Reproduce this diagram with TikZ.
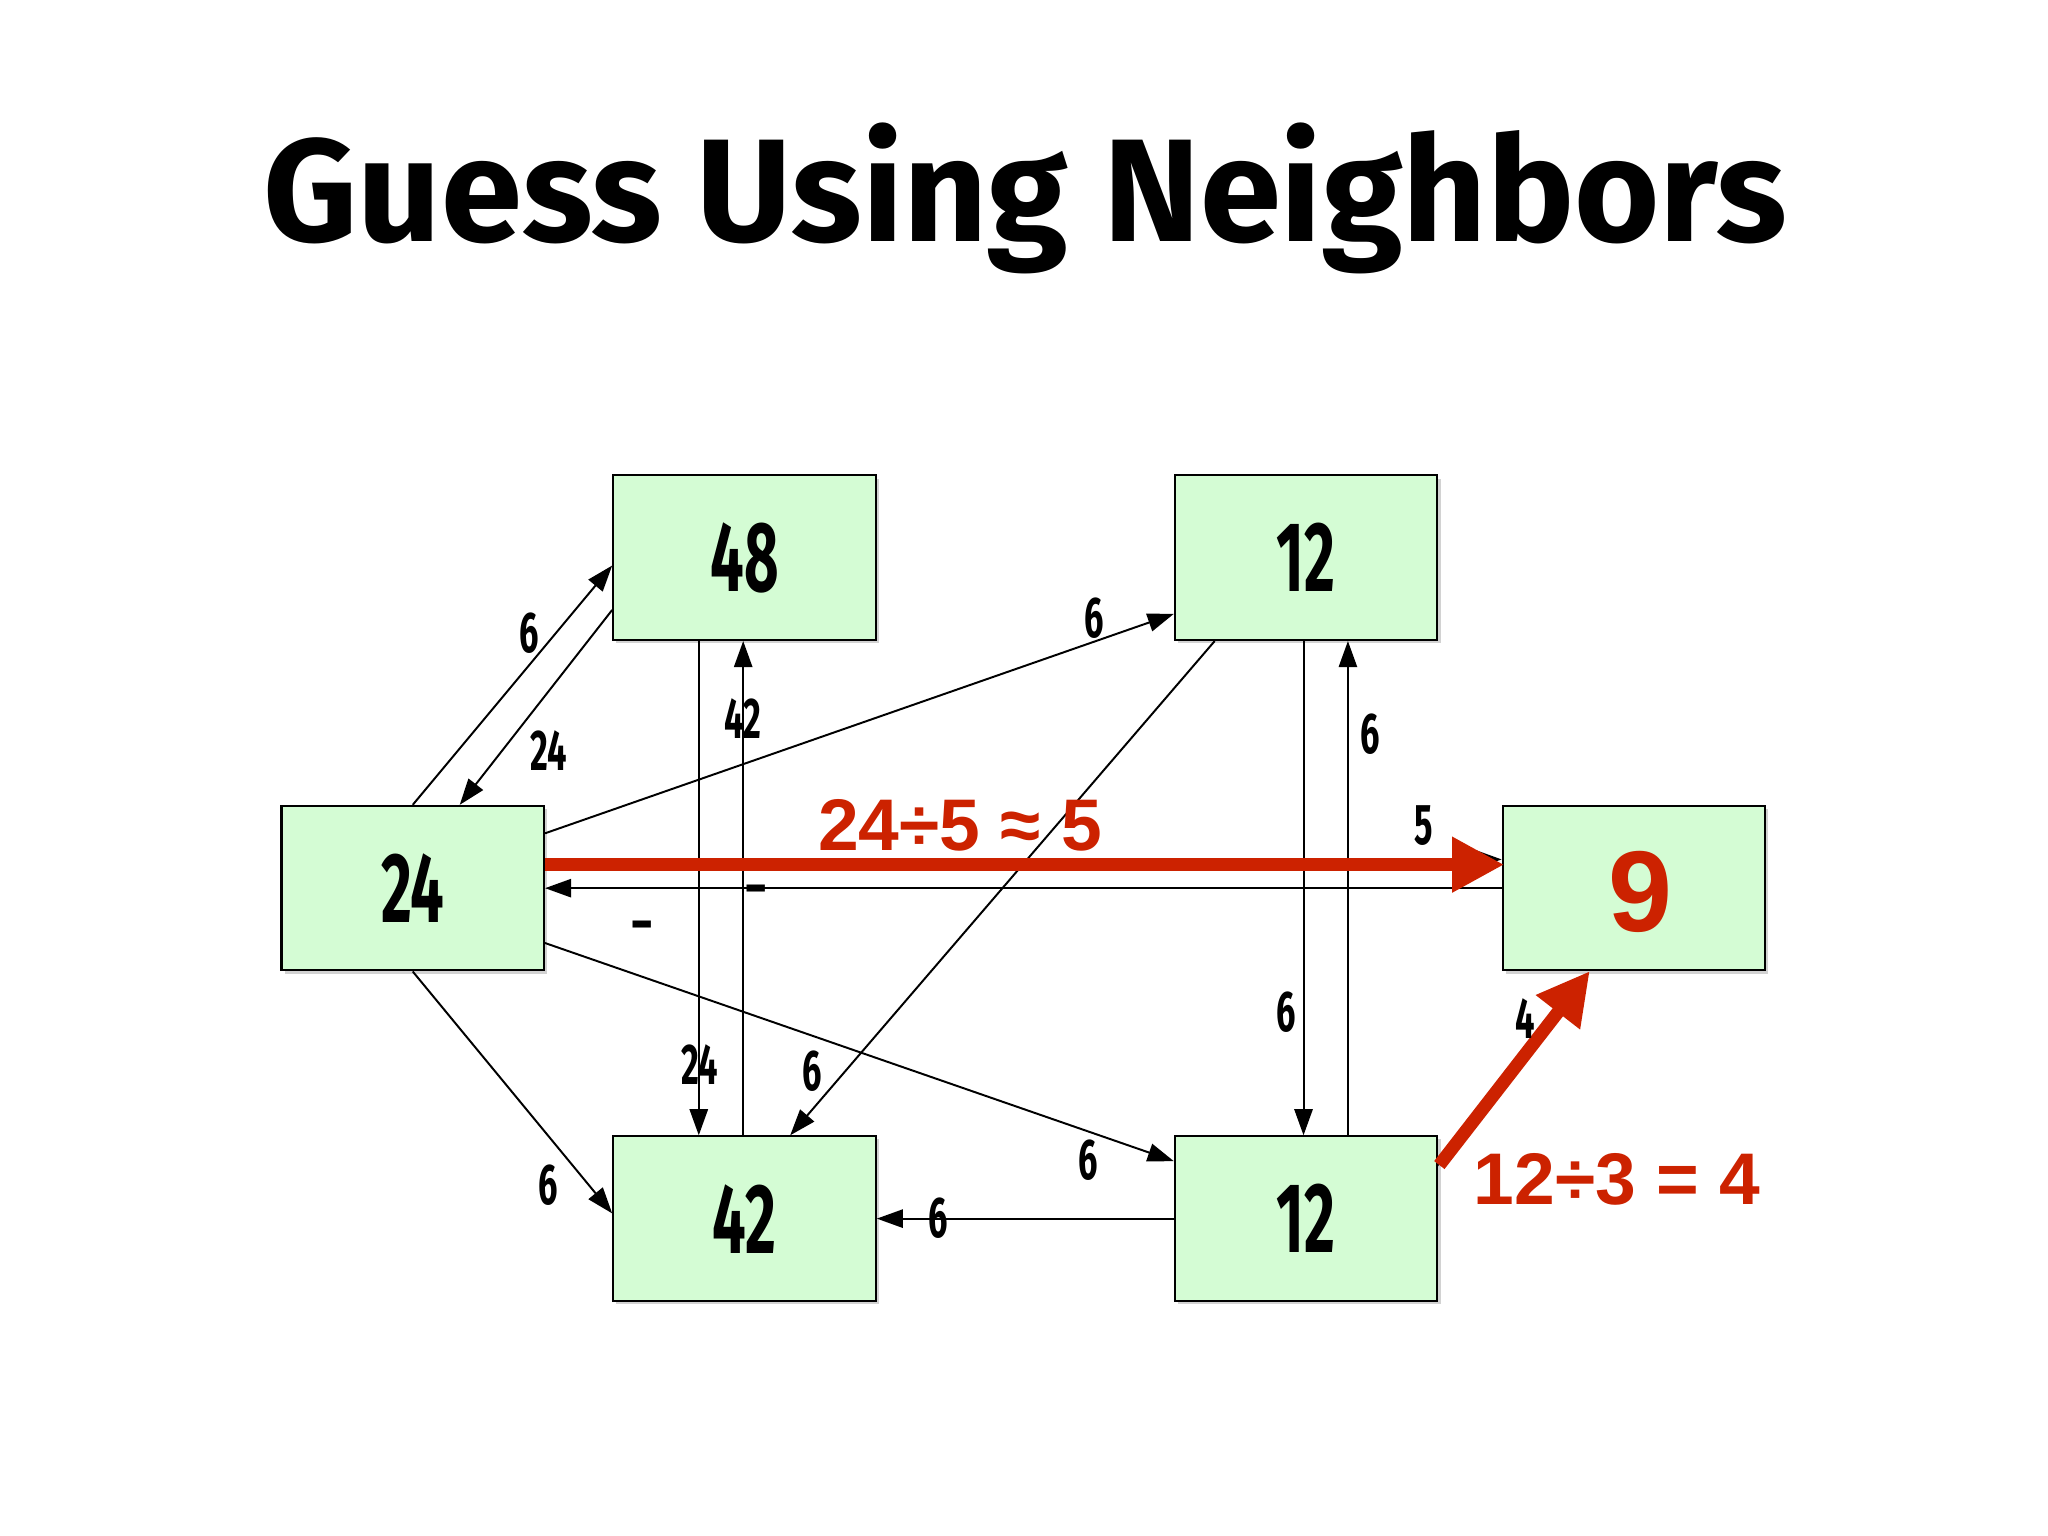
\documentclass[tikz,border=0pt]{standalone}
\usepackage{fontspec}
\setmainfont{Fira Sans}
\newfontfamily\redfont{Liberation Sans}
\usetikzlibrary{shadows,arrows.meta}
\definecolor{boxg}{HTML}{D4FCD4}
\definecolor{myred}{HTML}{CC2200}
\tikzset{
 bx/.style={draw=black,line width=0.8pt,fill=boxg,minimum width=100.5pt,minimum height=63pt,inner sep=0pt,
   drop shadow={opacity=0.35,shadow xshift=1.2pt,shadow yshift=-1.2pt},font=\fontsize{38}{40}\selectfont\bfseries},
 ed/.style={line width=0.75pt,-{Triangle[length=10pt,width=7pt]}},
 lb/.style={font=\fontsize{22}{24}\selectfont\bfseries,inner sep=0pt},
 rd/.style={line width=5pt,draw=myred,-{Triangle[length=20pt,width=20pt]},shorten >=-1pt},
 rl/.style={text=myred,font=\redfont\fontsize{28}{30}\selectfont\bfseries,inner sep=0pt}
}
\newcommand{\cn}[1]{\scalebox{0.6}[1]{#1}}
\begin{document}
\begin{tikzpicture}[x=0.5pt,y=-0.5pt]
\useasboundingbox (0,0) rectangle (1568,1176);
\fill[white] (0,0) rectangle (1568,1176);
\node[font=\fontsize{56}{60}\selectfont\bfseries] (title) at (785,152) {Guess Using Neighbors};
\node[bx] (A) at (316,680) {\cn{24}};
\node[bx] (B) at (570,427) {\cn{48}};
\node[bx] (C) at (1000,427) {\cn{12}};
\node[bx] (D) at (1251,680) {};
\node[rl,font=\redfont\fontsize{44}{46}\selectfont\bfseries] (nine) at (1256,683) {9};
\node[bx] (E) at (570,933) {\cn{42}};
\node[bx] (F) at (1000,933) {\cn{12}};
% connectors
\draw[ed] ([xshift=0pt]A.north) -- ([yshift=-3pt]B.west);
\draw[ed] ([yshift=-20pt]B.west) -- ([xshift=18pt]A.north);
\draw[ed] ([xshift=-17.5pt]B.south) -- ([xshift=-17.5pt]E.north);
\draw[ed] ([xshift=-0.5pt]E.north) -- ([xshift=-0.5pt]B.south);
\draw[ed] ([yshift=21pt]A.east) -- ([yshift=-21.5pt]C.west);
\draw[ed] ([xshift=-35pt]C.south) -- ([xshift=17.5pt]E.north);
\draw[ed] ([xshift=-1pt]C.south) -- ([xshift=-1pt]F.north);
\draw[ed] ([xshift=16pt]F.north) -- ([xshift=16pt]C.south);
\draw[ed] ([yshift=-21pt]A.east) -- ([yshift=22pt]F.west);
\draw[ed] (F.west) -- (E.east);
\draw[ed] (A.south) -- ([yshift=2pt]E.west);
\draw[ed] (D.west) -- (A.east);
\draw[ed] ([yshift=11pt]A.east) -- ([yshift=11pt]D.west);
\coordinate (Fc) at (1100,893);
\coordinate (Dc) at (1216,745);
\draw[ed] (Fc) -- (Dc);
\draw[rd] ([yshift=9pt]A.east) -- ([yshift=9pt]D.west);
\draw[rd] (1102,892) -- (Dc);
% labels
\node[lb] (l1) at (405,485) {\cn{6}};
\node[lb] (l2) at (420,575) {\cn{24}};
\node[lb] (l3) at (536,815) {\cn{24}};
\node[lb] (l4) at (569,550) {\cn{42}};
\node[lb] (l5) at (838,473) {\cn{6}};
\node[lb] (l6) at (622,820) {\cn{6}};
\node[lb] (l7) at (985,775) {\cn{6}};
\node[lb] (l8) at (1049,562) {\cn{6}};
\node[lb] (l9) at (833,888) {\cn{6}};
\node[lb] (l10) at (718,933) {\cn{6}};
\node[lb] (l11) at (420,907) {\cn{6}};
\node[lb] (l12) at (579,686) {-};
\node[lb] (l13) at (492,713) {-};
\node[lb] (l14) at (1090,632) {\cn{5}};
\node[lb] (l15) at (1168,780) {\cn{4}};
\node[rl] (r1) at (735,632) {24÷5 ≈ 5};
\node[rl] (r2) at (1238,903) {12÷3 = 4};
\end{tikzpicture}
\end{document}
